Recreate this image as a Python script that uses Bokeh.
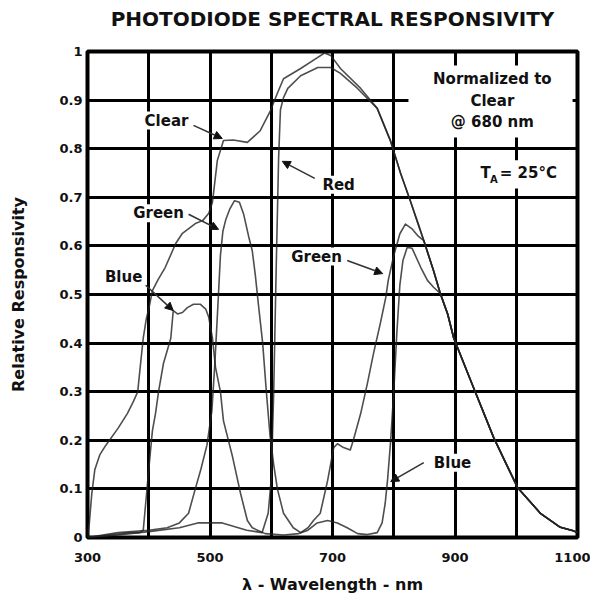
from bokeh.plotting import figure
from bokeh.models import Label, Arrow, NormalHead, FixedTicker, BoxAnnotation, Range1d, Title
from bokeh.embed import file_html
from bokeh.resources import INLINE

# ---- data ----
clear_nm = [300, 303, 307, 312, 320, 330, 350, 365, 375, 382, 386, 391, 396, 400, 406, 415, 427, 444,
            455, 476, 488, 498, 504, 512, 522, 538, 561, 582, 599, 610, 620, 648, 676, 687, 697, 713,
            746, 773, 795, 811, 827, 838, 849, 865, 876, 888, 898, 930, 963, 1002, 1040, 1072, 1093, 1100]
clear = [0.0, 0.03, 0.09, 0.14, 0.17, 0.19, 0.225, 0.255, 0.28, 0.30, 0.35, 0.41, 0.45, 0.47, 0.508,
         0.53, 0.556, 0.605, 0.626, 0.646, 0.652, 0.667, 0.69, 0.776, 0.817, 0.818, 0.813, 0.837, 0.879,
         0.914, 0.944, 0.965, 0.988, 0.997, 0.992, 0.965, 0.924, 0.883, 0.815, 0.75, 0.693, 0.652, 0.611,
         0.549, 0.502, 0.46, 0.41, 0.309, 0.206, 0.103, 0.049, 0.021, 0.014, 0.01]

red_nm = [300, 350, 400, 450, 480, 520, 560, 585, 595, 600, 604, 608, 612, 615, 620, 627, 648, 676,
          697, 713, 740, 773, 795, 811, 827, 838, 849, 865, 876, 888, 898, 930, 963, 1002, 1040, 1072,
          1093, 1100]
red = [0.0, 0.005, 0.012, 0.02, 0.03, 0.03, 0.015, 0.01, 0.05, 0.12, 0.30, 0.55, 0.78, 0.88, 0.905,
       0.924, 0.95, 0.967, 0.967, 0.955, 0.925, 0.883, 0.815, 0.75, 0.693, 0.652, 0.611, 0.549, 0.502,
       0.46, 0.41, 0.309, 0.206, 0.103, 0.049, 0.021, 0.014, 0.01]

green_nm = [300, 350, 400, 430, 450, 465, 476, 485, 495, 503, 508, 513, 517, 521, 526, 532, 540, 548,
            555, 563, 569, 574, 579, 586, 592, 598, 604, 610, 620, 636, 648, 660, 669, 680, 692, 702,
            708, 718, 729, 734, 746, 757, 767, 778, 787, 791, 800, 810, 819, 830, 840, 849, 865, 876,
            888, 898, 930, 963, 1002, 1040, 1072, 1093, 1100]
green = [0.0, 0.01, 0.015, 0.02, 0.03, 0.05, 0.10, 0.14, 0.19, 0.26, 0.36, 0.48, 0.58, 0.63, 0.655,
         0.675, 0.693, 0.69, 0.665, 0.62, 0.59, 0.54, 0.48, 0.40, 0.30, 0.21, 0.15, 0.10, 0.05, 0.02,
         0.01, 0.02, 0.035, 0.05, 0.117, 0.185, 0.193, 0.185, 0.18, 0.20, 0.255, 0.317, 0.379, 0.44,
         0.494, 0.529, 0.58, 0.625, 0.645, 0.635, 0.62, 0.611, 0.549, 0.502, 0.46, 0.41, 0.309, 0.206,
         0.103, 0.049, 0.021, 0.014, 0.01]

blue_nm = [300, 370, 385, 391, 395, 400, 406, 411, 416, 424, 436, 440, 447, 455, 463, 473, 484, 493,
           498, 504, 509, 517, 522, 537, 550, 561, 569, 590, 620, 645, 660, 675, 692, 708, 724, 741,
           757, 773, 781, 786, 790, 795, 800, 805, 810, 815, 822, 830, 844, 855, 865, 876, 888, 898,
           930, 963, 1002, 1040, 1072, 1093, 1100]
blue = [0.0, 0.01, 0.01, 0.015, 0.07, 0.14, 0.22, 0.255, 0.30, 0.358, 0.41, 0.467, 0.46, 0.463, 0.473,
        0.48, 0.48, 0.47, 0.453, 0.41, 0.35, 0.30, 0.24, 0.165, 0.09, 0.035, 0.02, 0.008, 0.005, 0.008,
        0.015, 0.03, 0.035, 0.03, 0.02, 0.008, 0.006, 0.01, 0.03, 0.07, 0.12, 0.20, 0.30, 0.42, 0.52,
        0.57, 0.597, 0.595, 0.556, 0.529, 0.515, 0.502, 0.46, 0.41, 0.309, 0.206, 0.103, 0.049, 0.021,
        0.014, 0.01]

x_ticks = [300, 500, 700, 900, 1100]
x_grid = [400, 500, 600, 700, 800, 900, 1000]
y_ticks = [0, 0.1, 0.2, 0.3, 0.4, 0.5, 0.6, 0.7, 0.8, 0.9, 1]
y_tick_labels = ["0", "0.1", "0.2", "0.3", "0.4", "0.5", "0.6", "0.7", "0.8", "0.9", "1"]

FONT = "DejaVu Sans"

p = figure(width=590, height=600, x_range=Range1d(300, 1100), y_range=Range1d(0, 1),
           output_backend="svg", toolbar_location=None,
           min_border_left=87, min_border_right=13, min_border_top=51, min_border_bottom=63,
           background_fill_color="white", border_fill_color="white")

# spacer title next to the frame, then the real title above it
p.add_layout(Title(text=" ", text_font=FONT, text_font_size="10px", standoff=6), "above")
p.add_layout(Title(text="PHOTODIODE SPECTRAL RESPONSIVITY", align="center", vertical_align="top",
                   text_font=FONT, text_font_size="20px", text_font_style="bold",
                   text_color="#111", standoff=0), "above")

p.outline_line_color = "black"
p.outline_line_width = 4
p.outline_line_alpha = 1

p.xgrid.ticker = FixedTicker(ticks=x_grid)
p.ygrid.ticker = FixedTicker(ticks=y_ticks[1:-1])
for g in (p.xgrid, p.ygrid):
    g.grid_line_color = "black"
    g.grid_line_width = 3
    g.grid_line_alpha = 1

p.xaxis.ticker = FixedTicker(ticks=x_ticks)
p.yaxis.ticker = FixedTicker(ticks=y_ticks)
p.yaxis.major_label_overrides = {t: s for t, s in zip(y_ticks, y_tick_labels)}
p.xaxis.axis_label = "λ - Wavelength - nm"
p.yaxis.axis_label = "Relative Responsivity"
for ax in (p.xaxis, p.yaxis):
    ax.axis_line_color = None
    ax.major_tick_line_color = None
    ax.minor_tick_line_color = None
    ax.major_tick_out = 0
    ax.major_tick_in = 0
    ax.major_label_text_font = FONT
    ax.major_label_text_font_style = "bold"
    ax.major_label_text_font_size = "13px"
    ax.major_label_text_color = "#111"
    ax.axis_label_text_font = FONT
    ax.axis_label_text_font_style = "bold"
    ax.axis_label_text_font_size = "16px"
    ax.axis_label_text_color = "#111"
p.xaxis.major_label_standoff = 15
p.xaxis.axis_label_standoff = 10
p.yaxis.major_label_standoff = 5
p.yaxis.axis_label_standoff = 28

for xs, ys in ((clear_nm, clear), (red_nm, red), (green_nm, green), (blue_nm, blue)):
    p.line(xs, ys, line_color="#222", line_width=1.6, line_alpha=0.8, line_join="round")

# white boxes behind the notes
p.add_layout(BoxAnnotation(left=824, right=1092, bottom=0.823, top=0.971,
                           fill_color="white", fill_alpha=1, line_color=None))
p.add_layout(BoxAnnotation(left=933, right=1094, bottom=0.718, top=0.776,
                           fill_color="white", fill_alpha=1, line_color=None))

def lab(x, y, text, align="center", size="15px", yoff=0):
    p.add_layout(Label(x=x, y=y, text=text, text_align=align, text_baseline="middle",
                       text_font=FONT, text_font_style="bold", text_font_size=size,
                       text_color="#111", background_fill_color="white",
                       background_fill_alpha=1, y_offset=yoff))

lab(961, 0.944, "Normalized to")
lab(961, 0.899, "Clear")
lab(961, 0.854, "@ 680 nm")
lab(950, 0.749, "T", align="center")
lab(957, 0.749, "A", align="left", size="10px", yoff=-6)
lab(973, 0.749, "= 25°C", align="left")

# curve labels
lab(429, 0.858, "Clear")
lab(416, 0.667, "Green")
lab(359, 0.535, "Blue")
lab(710, 0.726, "Red")
lab(674, 0.578, "Green")
lab(896, 0.154, "Blue")

arrows = [((473, 0.848), (520, 0.821)),
          ((465, 0.665), (514, 0.634)),
          ((395, 0.519), (440, 0.467)),
          ((671, 0.739), (618, 0.774)),
          ((724, 0.570), (782, 0.543)),
          ((849, 0.154), (795, 0.115))]
for (x0, y0), (x1, y1) in arrows:
    p.add_layout(Arrow(x_start=x0, y_start=y0, x_end=x1, y_end=y1, line_color="#333", line_width=1.6,
                       end=NormalHead(size=8, fill_color="#111", line_color="#111")))

open("out.html", "w").write(file_html(p, INLINE))
